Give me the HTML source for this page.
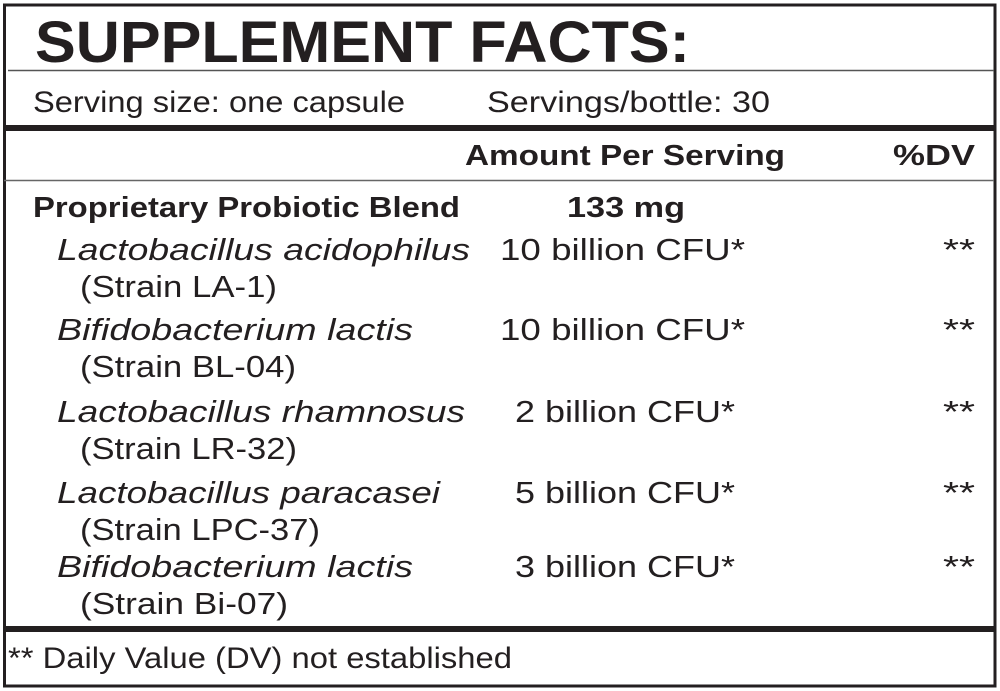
<!DOCTYPE html>
<html><head><meta charset="utf-8"><style>
html,body{margin:0;padding:0;background:#fff;}
svg{display:block;}
text{font-family:"Liberation Sans",sans-serif;fill:#231f20;}
.b{font-weight:bold;}
.i{font-style:italic;}
</style></head><body>
<svg width="1000" height="691" viewBox="0 0 1000 691" xmlns="http://www.w3.org/2000/svg">
<rect x="0" y="0" width="1000" height="691" fill="#fff"/>
<rect x="4.5" y="5" width="990.5" height="681" fill="none" stroke="#231f20" stroke-width="3"/>
<line x1="8" y1="70.5" x2="994" y2="70.5" stroke="#555" stroke-width="1.5"/>
<rect x="4" y="125" width="992" height="6" fill="#231f20"/>
<line x1="4" y1="180.5" x2="994" y2="180.5" stroke="#666" stroke-width="1.5"/>
<rect x="4" y="626" width="992" height="6" fill="#231f20"/>

<text class="b" x="35" y="62" font-size="58" textLength="655" lengthAdjust="spacingAndGlyphs">SUPPLEMENT FACTS:</text>
<text x="33" y="112" font-size="30" textLength="372" lengthAdjust="spacingAndGlyphs">Serving size: one capsule</text>
<text x="487" y="112" font-size="30" textLength="283" lengthAdjust="spacingAndGlyphs">Servings/bottle: 30</text>

<text class="b" x="465" y="165" font-size="29" textLength="320" lengthAdjust="spacingAndGlyphs">Amount Per Serving</text>
<text class="b" x="893" y="165" font-size="29" textLength="82" lengthAdjust="spacingAndGlyphs">%DV</text>

<text class="b" x="33" y="217" font-size="29" textLength="427" lengthAdjust="spacingAndGlyphs">Proprietary Probiotic Blend</text>
<text class="b" x="567" y="217" font-size="29" textLength="118" lengthAdjust="spacingAndGlyphs">133 mg</text>

<text class="i" x="57" y="260" font-size="31" textLength="413" lengthAdjust="spacingAndGlyphs">Lactobacillus acidophilus</text>
<text x="500" y="260" font-size="31" textLength="245" lengthAdjust="spacingAndGlyphs">10 billion CFU*</text>
<text x="943" y="260" font-size="31" textLength="32" lengthAdjust="spacingAndGlyphs">**</text>
<text x="80" y="297" font-size="31" textLength="197" lengthAdjust="spacingAndGlyphs">(Strain LA-1)</text>

<text class="i" x="57" y="340" font-size="31" textLength="356" lengthAdjust="spacingAndGlyphs">Bifidobacterium lactis</text>
<text x="500" y="340" font-size="31" textLength="245" lengthAdjust="spacingAndGlyphs">10 billion CFU*</text>
<text x="943" y="340" font-size="31" textLength="32" lengthAdjust="spacingAndGlyphs">**</text>
<text x="80" y="377" font-size="31" textLength="216" lengthAdjust="spacingAndGlyphs">(Strain BL-04)</text>

<text class="i" x="57" y="422" font-size="31" textLength="408" lengthAdjust="spacingAndGlyphs">Lactobacillus rhamnosus</text>
<text x="515" y="422" font-size="31" textLength="220" lengthAdjust="spacingAndGlyphs">2 billion CFU*</text>
<text x="943" y="422" font-size="31" textLength="32" lengthAdjust="spacingAndGlyphs">**</text>
<text x="80" y="459" font-size="31" textLength="217" lengthAdjust="spacingAndGlyphs">(Strain LR-32)</text>

<text class="i" x="57" y="503" font-size="31" textLength="383" lengthAdjust="spacingAndGlyphs">Lactobacillus paracasei</text>
<text x="515" y="503" font-size="31" textLength="220" lengthAdjust="spacingAndGlyphs">5 billion CFU*</text>
<text x="943" y="503" font-size="31" textLength="32" lengthAdjust="spacingAndGlyphs">**</text>
<text x="80" y="540" font-size="31" textLength="240" lengthAdjust="spacingAndGlyphs">(Strain LPC-37)</text>

<text class="i" x="57" y="577" font-size="31" textLength="356" lengthAdjust="spacingAndGlyphs">Bifidobacterium lactis</text>
<text x="515" y="577" font-size="31" textLength="220" lengthAdjust="spacingAndGlyphs">3 billion CFU*</text>
<text x="943" y="577" font-size="31" textLength="32" lengthAdjust="spacingAndGlyphs">**</text>
<text x="80" y="614" font-size="31" textLength="208" lengthAdjust="spacingAndGlyphs">(Strain Bi-07)</text>

<text x="8" y="668" font-size="30" textLength="504" lengthAdjust="spacingAndGlyphs">** Daily Value (DV) not established</text>
</svg>
</body></html>
